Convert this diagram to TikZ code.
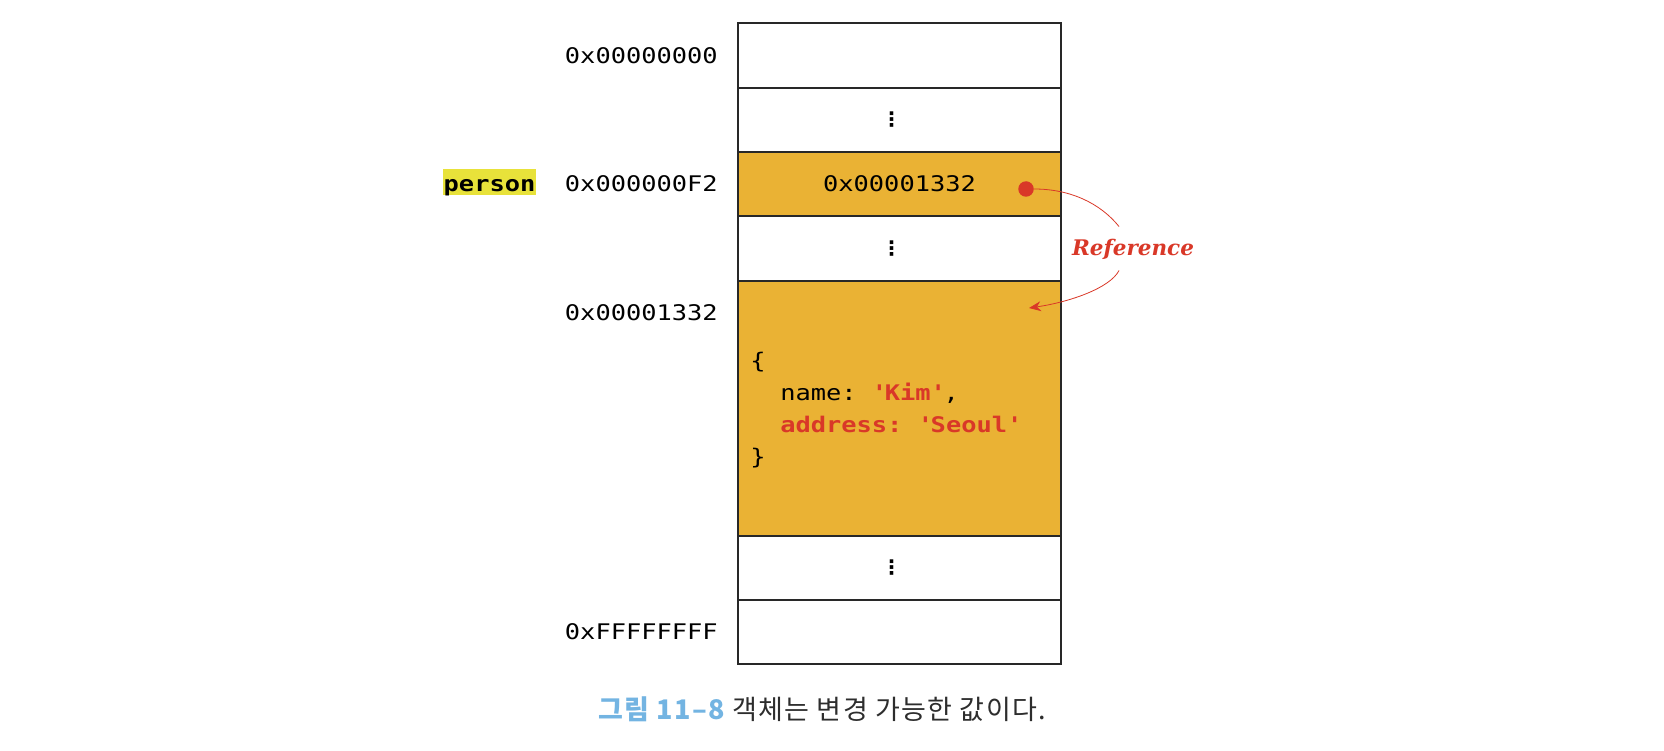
\documentclass[tikz,border=0pt]{standalone}
\usepackage{fontspec}
\usepackage{tikz}
\usetikzlibrary{arrows.meta,positioning}

\setmainfont{DejaVu Sans}
\newfontfamily\monofont{DejaVu Sans Mono}[FakeStretch=1.18]
\newfontfamily\reffont{DejaVu Serif}
\newfontfamily\krfont{Noto Sans CJK KR}[LetterSpace=5]

\definecolor{memfill}{RGB}{234,178,52}
\definecolor{refred}{RGB}{217,56,40}
\definecolor{hlyellow}{RGB}{232,226,58}
\definecolor{capblue}{RGB}{115,180,226}
\definecolor{cellline}{RGB}{40,40,40}
\definecolor{captext}{RGB}{45,45,45}

\frenchspacing
\begin{document}
\begin{tikzpicture}[x=1pt,y=-1pt,semithick,
                    cell/.style={draw=cellline,line width=1.4pt,minimum width=323pt,
                                 inner sep=0pt,outer sep=0pt},
                    addr/.style={font=\monofont\fontsize{21.5}{25}\selectfont,inner sep=0pt},
                    code/.style={font=\monofont\fontsize{21.5}{25}\selectfont,inner sep=0pt,
                                 anchor=base west}]
  \tikzstyle{vdots}=[font=\bfseries\fontsize{20}{24}\selectfont,inner sep=0pt]
  \tikzstyle{refline}=[draw=refred,line width=0.8pt]

  \useasboundingbox (0,0) rectangle (1664,751);

  % memory cells, top to bottom
  \node[cell,minimum height=65pt,anchor=north west] (row1) at (738,23) {};
  \node[cell,minimum height=64pt] (row2) [below=0pt of row1] {};
  \node[cell,minimum height=64pt,fill=memfill,font=\monofont\fontsize{21.5}{25}\selectfont]
                                  (row3) [below=0pt of row2] {0x00001332};
  \node[cell,minimum height=65pt] (row4) [below=0pt of row3] {};
  \node[cell,minimum height=255pt,fill=memfill] (row5) [below=0pt of row4] {};
  \node[cell,minimum height=64pt] (row6) [below=0pt of row5] {};
  \node[cell,minimum height=64pt] (row7) [below=0pt of row6] {};

  \node[vdots] (d2) at ([xshift=-8pt]row2.center) {⋮};
  \node[vdots] (d4) at ([xshift=-8pt]row4.center) {⋮};
  \node[vdots] (d6) at ([xshift=-8pt]row6.center) {⋮};

  % addresses
  \node[addr] (a1) [left=20pt of row1] {0x00000000};
  \node[addr] (a3) [left=20pt of row3] {0x000000F2};
  \node[addr] (a5) [left=20pt of row5.north west,yshift=-32pt] {0x00001332};
  \node[addr] (a7) [left=20pt of row7] {0xFFFFFFFF};

  \node[addr,fill=hlyellow,font=\monofont\bfseries\fontsize{21.5}{25}\selectfont,
        text height=20pt,text depth=0.5pt,inner xsep=1pt,inner ysep=2.5pt]
                                  (var) [base left=28pt of a3] {person};

  % object literal
  \node[code] (c1) at (750,368) {\{};
  \node[code] (c2) at (780,400) {name: \textcolor{refred}{\bfseries\textquotesingle Kim\textquotesingle},};
  \node[code,text=refred,font=\monofont\bfseries\fontsize{21.5}{25}\selectfont]
                                  (c3) at (780,432) {address: \textquotesingle Seoul\textquotesingle};
  \node[code] (c4) at (750,464) {\}};

  % reference
  \node[circle,fill=refred,minimum size=15.5pt,inner sep=0pt] (ptr) at (1026,189) {};
  \node[text=refred,inner sep=0pt,font=\reffont\bfseries\itshape\fontsize{21.5}{25}\selectfont]
                                  (reflbl) at (1133,249) {Reference};
  \coordinate (tgt) at (1029,308);

  \draw[refline] (ptr) .. controls (1070,189) and (1100,203) .. ([shift={(-14pt,12pt)}]reflbl.north);
  \draw[refline,-{Stealth[length=12pt,width=10pt,inset=4pt]}]
        ([shift={(-14pt,-11pt)}]reflbl.south) .. controls (1110,288) and (1070,302) .. (tgt);

  % caption
  \node[font=\krfont\fontsize{27}{31}\selectfont,text=captext] (cap) at (822,709)
        {{\bfseries\color{capblue}그림 11–8} 객체는 변경 가능한 값이다.};
\end{tikzpicture}
\end{document}
